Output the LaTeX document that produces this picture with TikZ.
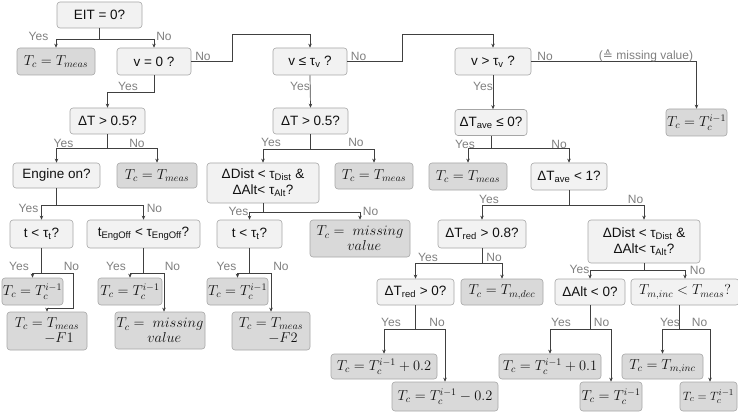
\documentclass[tikz,border=0pt]{standalone}
\usepackage{fontspec}
\setmainfont{Liberation Sans}
\newfontfamily\djv{DejaVu Sans}
\usetikzlibrary{arrows.meta}
\definecolor{qfill}{HTML}{F2F2F2}
\definecolor{rfill}{HTML}{D9D9D9}
\definecolor{boxline}{HTML}{A6A6A6}
\definecolor{conn}{HTML}{404040}
\definecolor{labcol}{HTML}{7F7F7F}
\definecolor{txt}{HTML}{111111}
\newcommand{\lo}[1]{\textsubscript{#1}}

\begin{document}
\begin{tikzpicture}[x=1pt,y=-1pt,
  box/.style={draw=boxline, line width=0.6pt, rounded corners=3pt, inner sep=0pt, text=txt, align=center},
  qbox/.style={box, fill=qfill, font=\fontsize{13.5}{16}\selectfont},
  rbox/.style={box, fill=rfill, font=\fontsize{14}{17}\selectfont},
  mq/.style={box, fill=qfill, font=\fontsize{14}{17}\selectfont},
  lab/.style={text=labcol, font=\fontsize{12}{14}\selectfont, inner sep=0pt},
  arr/.style={draw=conn, line width=0.7pt, -{Stealth[length=4pt,width=3.5pt]}}]
\useasboundingbox (0,0) rectangle (738,414);

% ---------- left branch: stationary vehicle ----------
\node[qbox, minimum width=85pt, minimum height=26pt] (q1) at (99.5,15) {EIT = 0?};
\node[rbox, minimum width=78pt, minimum height=27pt] (r1) at (56,61.5) {$T_c = T_{meas}$};
\node[qbox, minimum width=74pt, minimum height=27pt] (q2) at (154,61.5) {v = 0 ?};
\node[qbox, minimum width=75pt, minimum height=26pt] (q3) at (107.5,121) {ΔT > 0.5?};
\node[qbox, minimum width=87pt, minimum height=25pt] (q4) at (56.5,175.5) {Engine on?};
\node[rbox, minimum width=80pt, minimum height=25pt] (r2) at (157,175.5) {$T_c = T_{meas}$};
\node[qbox, minimum width=63pt, minimum height=28pt] (q5) at (41.5,234) {t < τ\lo{t}?};
\node[qbox, minimum width=113pt, minimum height=28pt] (q6) at (143.5,234) {t\lo{EngOff} < τ\lo{EngOff}?};
\node[rbox, minimum width=61pt, minimum height=27pt] (r3) at (32.5,291.5) {$T_c = T_c^{i-1}$};
\node[rbox, minimum width=80pt, minimum height=38pt, align=left] (r4) at (47,331) {$T_c = T_{meas}$\\[-2pt]\hspace*{2.1em}$-F1$};
\node[rbox, minimum width=64pt, minimum height=27pt] (r5) at (130,291.5) {$T_c = T_c^{i-1}$};
\node[rbox, minimum width=90pt, minimum height=37pt] (r6) at (160,330.5) {$T_c =\ missing$\\[-2pt]\hspace*{0.6em}$value$};

% ---------- middle branch: slow vehicle ----------
\node[qbox, minimum width=74pt, minimum height=27pt] (q7) at (310,61.5) {v ≤ τ\lo{v} ?};
\node[qbox, minimum width=75pt, minimum height=26pt] (q8) at (310.5,121) {ΔT > 0.5?};
\node[qbox, minimum width=112pt, minimum height=40pt] (q9) at (263,183) {ΔDist < τ\lo{Dist} \&\\ΔAlt< τ\lo{Alt}?};
\node[rbox, minimum width=78pt, minimum height=26pt] (r7) at (374,176) {$T_c = T_{meas}$};
\node[qbox, minimum width=65pt, minimum height=28pt] (q10) at (249.5,234) {t < τ\lo{t}?};
\node[rbox, minimum width=100pt, minimum height=37pt] (r8) at (360,238.5) {$T_c =\ missing$\\[-2pt]\hspace*{0.6em}$value$};
\node[rbox, minimum width=61pt, minimum height=27pt] (r9) at (237.5,291.5) {$T_c = T_c^{i-1}$};
\node[rbox, minimum width=78pt, minimum height=38pt, align=left] (r10) at (271,331) {$T_c = T_{meas}$\\[-2pt]\hspace*{2.1em}$-F2$};

% ---------- right branch: moving vehicle ----------
\node[qbox, minimum width=76pt, minimum height=27pt] (q11) at (493,61.5) {v > τ\lo{v} ?};
\node[rbox, minimum width=61pt, minimum height=27pt] (r11) at (696.5,122.5) {$T_c = T_c^{i-1}$};
\node[qbox, minimum width=72pt, minimum height=26pt] (q12) at (491,122.5) {ΔT\lo{ave} ≤ 0?};
\node[rbox, minimum width=78pt, minimum height=27pt] (r12) at (468,176.5) {$T_c = T_{meas}$};
\node[qbox, minimum width=76pt, minimum height=27pt] (q13) at (569,176.5) {ΔT\lo{ave} < 1?};
\node[qbox, minimum width=88pt, minimum height=28pt] (q14) at (482,234) {ΔT\lo{red} > 0.8?};
\node[qbox, minimum width=112pt, minimum height=43pt] (q15) at (644,241.5) {ΔDist < τ\lo{Dist} \&\\ΔAlt< τ\lo{Alt}?};
\node[qbox, minimum width=77pt, minimum height=26pt] (q16) at (415.5,292) {ΔT\lo{red} > 0?};
\node[rbox, minimum width=82pt, minimum height=26pt] (r13) at (502,292) {$T_c = T_{m,dec}$};
\node[qbox, minimum width=70pt, minimum height=26pt] (q17) at (590,292) {ΔAlt < 0?};
\node[mq, minimum width=108pt, minimum height=26pt] (q18) at (685,292) {$T_{m,inc} < T_{meas}?$};
\node[rbox, minimum width=106pt, minimum height=25pt] (r14) at (384,366.5) {$T_c = T_c^{i-1} + 0.2$};
\node[rbox, minimum width=106pt, minimum height=29pt] (r15) at (445,396.5) {$T_c = T_c^{i-1} - 0.2$};
\node[rbox, minimum width=102pt, minimum height=25pt] (r16) at (550,366.5) {$T_c = T_c^{i-1} + 0.1$};
\node[rbox, minimum width=62pt, minimum height=29pt] (r17) at (611,396.5) {$T_c = T_c^{i-1}$};
\node[rbox, minimum width=81pt, minimum height=25pt] (r18) at (662.5,366.5) {$T_c = T_{m,inc}$};
\node[rbox, minimum width=57pt, minimum height=29pt, font=\fontsize{13}{15}\selectfont] (r19) at (708.5,396.5) {$T_c = T_c^{i-1}$};

% ---------- connectors ----------
\draw[arr] (q1.south) -- ++(0,11) -| (r1.north);
\draw[arr] (q1.south) -- ++(0,11) -| (q2.north);
\draw[arr] (q2.east) -| ++(41,-27.5) -| (q7.north);
\draw[arr] (q2.south) -- ++(0,17) -| (q3.north);
\draw[arr] (q3.south) -- ++(0,14) -| (q4.north);
\draw[arr] (q3.south) -- ++(0,14) -| (r2.north);
\draw[arr] (q4.south) -- ++(0,17) -| (q5.north);
\draw[arr] (q4.south) -- ++(0,17) -| (q6.north);
\draw[arr] (q5.south) -- ++(0,25) -| (r3.north);
\draw[arr] (q5.south) -- ++(0,25) -| ++(32,35) -| (r4.north);
\draw[arr] (q6.south) -- ++(0,25) -| (r5.north);
\draw[arr] (q6.south) -- ++(0,25) -| ([xshift=4pt]r6.north);

\draw[arr] (q7.east) -| ++(55,-27.5) -| (q11.north);
\draw[arr] (q7.south) -- (q8.north);
\draw[arr] (q8.south) -- ++(0,15) -| (q9.north);
\draw[arr] (q8.south) -- ++(0,15) -| (r7.north);
\draw[arr] (q9.south) -- ++(0,9) -| (q10.north);
\draw[arr] (q9.south) -- ++(0,9) -| (r8.north);
\draw[arr] (q10.south) -- ++(0,25) -| (r9.north);
\draw[arr] (q10.south) -- ++(0,25) -| (r10.north);

\draw[arr] (q11.east) -| (r11.north);
\draw[arr] (q11.south) -- (q11.south |- q12.north);
\draw[arr] (q12.south) -- ++(0,12.5) -| (r12.north);
\draw[arr] (q12.south) -- ++(0,12.5) -| (q13.north);
\draw[arr] (q13.south) -- ++(0,15) -| (q14.north);
\draw[arr] (q13.south) -- ++(0,15) -| (q15.north);
\draw[arr] (q14.south) -- ++(0,15) -| (q16.north);
\draw[arr] (q14.south) -- ++(0,15) -| (r13.north);
\draw[arr] (q15.south) -- ++(0,7) -| (q17.north);
\draw[arr] (q15.south) -- ++(0,7) -| (q18.north);
\draw[arr] (q16.south) -- ++(0,24) -| (r14.north);
\draw[arr] (q16.south) -- ++(0,24) -| (r15.north);
\draw[arr] (q17.south) -- ++(0,24) -| (r16.north);
\draw[arr] (q17.south) -- ++(0,24) -| (r17.north);
\draw[arr] ([xshift=-6pt]q18.south) -- ++(0,24) -| (r18.north);
\draw[arr] ([xshift=-6pt]q18.south) -- ++(0,24) -| ([xshift=1.5pt]r19.north);

% ---------- branch labels ----------
\node[lab] (y1) at (38.5,36) {Yes};
\node[lab] (n1) at (164,36) {No};
\node[lab] (n2) at (203,56) {No};
\node[lab] (y2) at (128,86) {Yes};
\node[lab] (y3) at (63.5,143) {Yes};
\node[lab] (n3) at (137,143) {No};
\node[lab] (y4) at (28.5,208) {Yes};
\node[lab] (n4) at (154.5,208) {No};
\node[lab] (y5) at (19,266) {Yes};
\node[lab] (n5) at (71.5,266) {No};
\node[lab] (y6) at (116,266) {Yes};
\node[lab] (n6) at (172.5,266) {No};
\node[lab] (n7) at (358.5,56) {No};
\node[lab] (y7) at (300,86) {Yes};
\node[lab] (y8) at (271,142.5) {Yes};
\node[lab] (n8) at (356,142.5) {No};
\node[lab] (y9) at (238.5,211) {Yes};
\node[lab] (n9) at (370.5,211) {No};
\node[lab] (y10) at (226.5,266) {Yes};
\node[lab] (n10) at (281,266) {No};
\node[lab] (n11) at (545,56) {No};
\node[lab] (mv) at (646,56) {({\djv ≙} missing value)};
\node[lab] (y11) at (483,86) {Yes};
\node[lab] (y12) at (465,144) {Yes};
\node[lab] (n12) at (559,144) {No};
\node[lab] (y13) at (489,199) {Yes};
\node[lab] (n13) at (635.5,199) {No};
\node[lab] (y14) at (428,257) {Yes};
\node[lab] (n14) at (494,257) {No};
\node[lab] (y15) at (579.5,269) {Yes};
\node[lab] (n15) at (697.5,270) {No};
\node[lab] (y16) at (391,322) {Yes};
\node[lab] (n16) at (437,322) {No};
\node[lab] (y17) at (561,322) {Yes};
\node[lab] (n17) at (601.5,322) {No};
\node[lab] (y18) at (670,322) {Yes};
\node[lab] (n18) at (699.5,322) {No};
\end{tikzpicture}
\end{document}
